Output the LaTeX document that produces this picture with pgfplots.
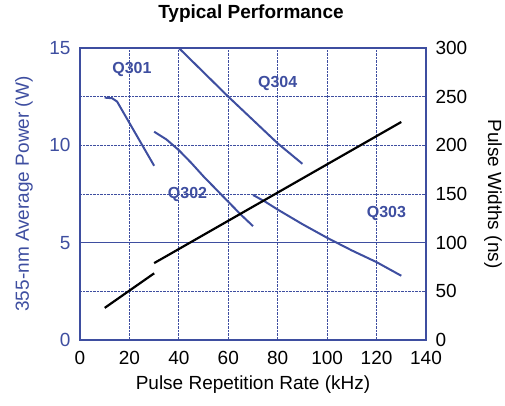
\documentclass[border=0pt]{standalone}
\usepackage{pgfplots}
\pgfplotsset{compat=1.18}
\usepackage{fontspec}
\setmainfont{Liberation Sans}
\definecolor{qblue}{RGB}{62,78,160}
\newcommand{\bigf}{\fontsize{19}{22}\selectfont}
\newcommand{\qf}{\bfseries\fontsize{16}{18}\selectfont}
\begin{document}
\begin{tikzpicture}
\begin{axis}[
  at={(0,0)}, anchor=south west,
  scale only axis, width=346pt, height=292pt,
  xmin=0, xmax=140, ymin=0, ymax=15,
  xtick={0,20,...,140}, ytick={0,5,10,15},
  minor ytick={2.5,7.5,12.5},
  extra y ticks={5}, extra y tick labels={},
  extra y tick style={grid=major, major grid style={qblue, solid, line width=0.8pt}},
  grid=both,
  major grid style={qblue, densely dotted, line width=0.8pt},
  minor grid style={qblue, densely dotted, line width=0.8pt},
  axis line style={qblue, line width=1.2pt},
  tick style={draw=none},
  /pgf/number format/assume math mode=true,
  ticklabel style={font=\bigf},
  yticklabel style={qblue, xshift=-6pt},
  xticklabel style={black, yshift=-8pt},
  xlabel={Pulse Repetition Rate (kHz)},
  xlabel style={font=\bigf, at={(axis description cs:0.5,0)}, anchor=center, yshift=-45pt},
  ylabel={355-nm Average Power (W)},
  ylabel style={font=\bigf, text=qblue, at={(axis description cs:0,0.5)}, anchor=center, yshift=56pt},
]
\addplot[qblue, line width=2pt] coordinates {(10,12.45) (13,12.42) (15,12.25) (20,11.15) (25,10.05) (30,8.95)};
\addplot[qblue, line width=2pt] coordinates {(30,10.7) (35,10.3) (40,9.75) (45,9.1) (50,8.4) (55,7.75) (60,7.1) (65,6.45) (70,5.85)};
\addplot[qblue, line width=2pt] coordinates {(70,7.45) (75,7.1) (80,6.7) (90,5.95) (100,5.25) (110,4.6) (120,4.0) (130,3.3)};
\addplot[qblue, line width=2pt] coordinates {(40,15) (50,13.75) (60,12.5) (70,11.3) (80,10.1) (90,9.05)};
\node[qblue, font=\qf] at (axis cs:21,13.9) {Q301};
\node[qblue, font=\qf] at (axis cs:80,13.2) {Q304};
\node[qblue, font=\qf] at (axis cs:43.5,7.5) {Q302};
\node[qblue, font=\qf] at (axis cs:124,6.5) {Q303};
\end{axis}
\begin{axis}[
  at={(0,0)}, anchor=south west,
  scale only axis, width=346pt, height=292pt,
  xmin=0, xmax=140, ymin=0, ymax=300,
  axis x line=none, axis y line*=right,
  axis line style={draw=none},
  ytick={0,50,...,300},
  tick style={draw=none},
  /pgf/number format/assume math mode=true,
  ticklabel style={font=\bigf},
  yticklabel style={xshift=6pt},
  ylabel={Pulse Widths (ns)},
  ylabel style={font=\bigf, at={(axis description cs:1,0.5)}, anchor=center, rotate=180, yshift=67pt},
]
\addplot[black, line width=2.2pt] coordinates {(10,33) (30,68.5)};
\addplot[black, line width=2.2pt] coordinates {(30,79) (80,151.5) (130,224)};
\end{axis}
\node[font=\bfseries\bigf] at (171pt,326pt) {Typical Performance};
\pgfresetboundingbox
\path (-80pt,-65pt) rectangle (425pt,340pt);
\end{tikzpicture}
\end{document}
